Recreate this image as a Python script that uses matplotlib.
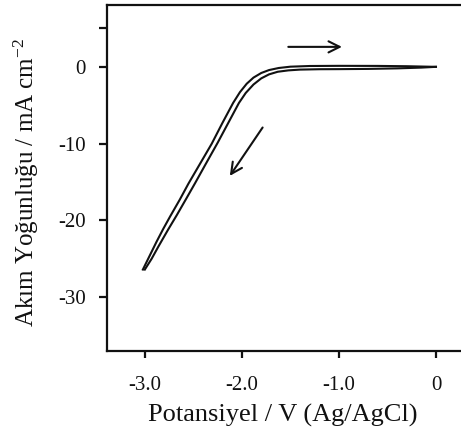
import matplotlib
matplotlib.use("Agg")
from matplotlib import pyplot as plt

plt.rcParams["font.family"] = ["Liberation Serif", "DejaVu Serif"]
plt.rcParams["mathtext.fontset"] = "custom"
plt.rcParams["mathtext.rm"] = "Liberation Serif"
plt.rcParams["mathtext.default"] = "regular"
plt.rcParams["axes.unicode_minus"] = False

# outer branch of the voltammogram
outer_v = [-3.02, -2.95, -2.88, -2.81, -2.74, -2.64, -2.55, -2.43, -2.31, -2.20, -2.09,
           -2.02, -1.95, -1.88, -1.80, -1.72, -1.62, -1.50, -1.30, -1.00, -0.60, -0.30, 0.0]
outer_j = [-26.4, -24.6, -22.8, -21.1, -19.5, -17.3, -15.2, -12.6, -10.0, -7.3, -4.7,
           -3.3, -2.2, -1.4, -0.8, -0.42, -0.15, 0.02, 0.11, 0.13, 0.12, 0.08, 0.0]
# inner branch
inner_v = [-3.00, -2.93, -2.86, -2.76, -2.67, -2.57, -2.48, -2.37, -2.25, -2.14, -2.03,
           -1.96, -1.88, -1.80, -1.72, -1.63, -1.52, -1.40, -1.20, -1.00, -0.70, -0.40, -0.15, 0.0]
inner_j = [-26.4, -25.0, -23.4, -21.2, -19.3, -17.1, -15.1, -12.6, -9.9, -7.3, -4.7,
           -3.4, -2.3, -1.5, -0.98, -0.64, -0.46, -0.36, -0.31, -0.30, -0.27, -0.2, -0.1, 0.0]

x_ticks = [-3.0, -2.0, -1.0, 0.0]
x_labels = ["-3.0", "-2.0", "-1.0", "0"]
y_ticks = [5, 0, -10, -20, -30]
y_labels = ["", "0", "-10", "-20", "-30"]

fig = plt.figure(figsize=(4.61, 4.40), dpi=100)
ax = fig.add_axes([0.232, 0.2023, 0.768, 0.7863])

ax.plot(outer_v, outer_j, color="#111111", linewidth=1.5, solid_joinstyle="round")
ax.plot(inner_v, inner_j, color="#111111", linewidth=1.5, solid_joinstyle="round")

# scan direction arrows
ax.annotate("", xy=(-0.94, 2.6), xytext=(-1.55, 2.6),
            arrowprops=dict(arrowstyle="->", color="#111111", lw=1.5, mutation_scale=20))
ax.annotate("", xy=(-2.14, -14.5), xytext=(-1.77, -7.6),
            arrowprops=dict(arrowstyle="->", color="#111111", lw=1.5, mutation_scale=20))

ax.set_xlim(-3.39, 0.258)
ax.set_ylim(-37, 8.05)
ax.set_xticks(x_ticks, x_labels)
ax.set_yticks(y_ticks, y_labels)
ax.spines["right"].set_visible(False)
for s in ["left", "bottom", "top"]:
    ax.spines[s].set_linewidth(1.6)
    ax.spines[s].set_color("#111111")
ax.tick_params(axis="x", direction="out", length=5, width=1.6, labelsize=15, pad=13, colors="#111111")
ax.tick_params(axis="y", direction="out", length=6, width=1.6, labelsize=15, pad=9, colors="#111111")

ax.set_xlabel("Potansiyel / V (Ag/AgCl)", fontsize=19, va="center", color="#111111")
ax.xaxis.set_label_coords(0.497, -0.185)
ax.set_ylabel("Akım Yoğunluğu / mA cm$^{-2}$", fontsize=18, va="center", color="#111111")
ax.yaxis.set_label_coords(-0.229, 0.487)

fig.savefig("out.png", dpi=100)
